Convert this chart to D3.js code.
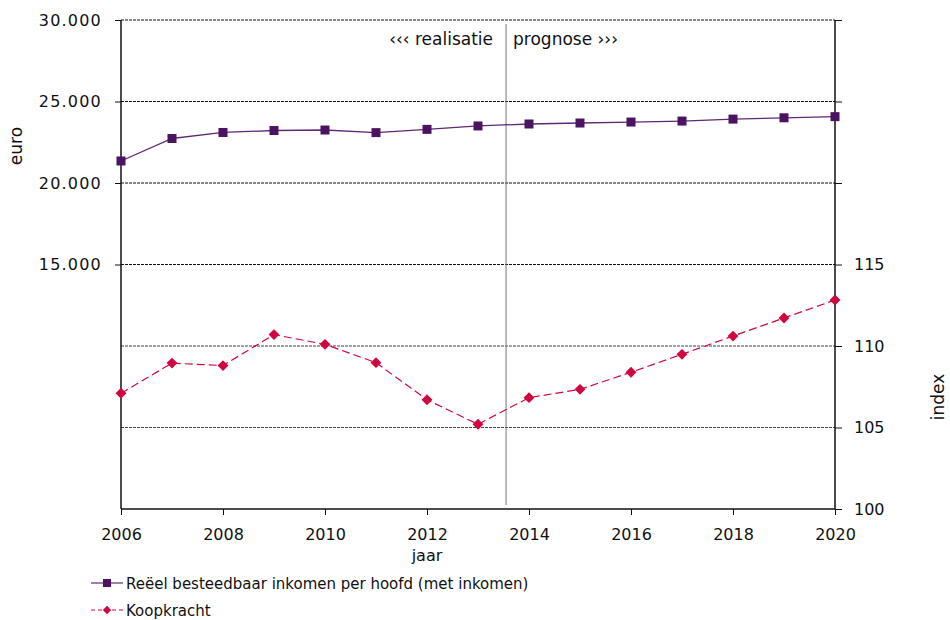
<!DOCTYPE html>
<html>
<head>
<meta charset="utf-8">
<script src="https://cdn.jsdelivr.net/npm/d3@7"></script>
<style>
  body { margin: 0; background: #fff; }
  svg text { font-family: "DejaVu Sans", Verdana, sans-serif; fill: #111; }
</style>
</head>
<body>
<div id="chart"></div>
<script>
const years = [2006, 2007, 2008, 2009, 2010, 2011, 2012, 2013, 2014, 2015, 2016, 2017, 2018, 2019, 2020];
const inkomen = [21350, 22730, 23100, 23220, 23250, 23090, 23290, 23500, 23620, 23680, 23740, 23800, 23920, 24000, 24070];
const koopkracht = [107.1, 108.95, 108.8, 110.7, 110.1, 108.98, 106.7, 105.2, 106.83, 107.34, 108.39, 109.49, 110.61, 111.72, 112.82];
const euroTicks = [15000, 20000, 25000, 30000];
const indexTicks = [100, 105, 110, 115];
const indexMinorTicks = [120, 125, 130];
const yearTicks = [2006, 2008, 2010, 2012, 2014, 2016, 2018, 2020];
const splitYear = 2013.55;

const width = 950, height = 620;
const margin = {top: 20, right: 115, bottom: 111, left: 121};
const w = width - margin.left - margin.right;
const h = height - margin.top - margin.bottom;

const svg = d3.select("#chart").append("svg")
    .attr("width", width)
    .attr("height", height);

const g = svg.append("g")
    .attr("transform", `translate(${margin.left},${margin.top})`);

const x = d3.scaleLinear().domain([2006, 2020]).range([0, w]);
const yL = d3.scaleLinear().domain([0, 30000]).range([h, 0]);
const yR = d3.scaleLinear().domain([100, 130]).range([h, 0]);

// gridlines
g.selectAll(".gridL")
    .data(euroTicks)
    .enter()
    .append("line")
    .attr("x1", 0).attr("x2", w)
    .attr("y1", d => yL(d)).attr("y2", d => yL(d))
    .attr("stroke", "#111")
    .attr("stroke-dasharray", "3,1");

g.selectAll(".gridR")
    .data([105, 110])
    .enter()
    .append("line")
    .attr("x1", 0).attr("x2", w)
    .attr("y1", d => yR(d)).attr("y2", d => yR(d))
    .attr("stroke", "#444")
    .attr("stroke-dasharray", "3,1");

// split line
g.append("line")
    .attr("x1", x(splitYear)).attr("x2", x(splitYear))
    .attr("y1", 4).attr("y2", h - 4)
    .attr("stroke", "#777")
    .attr("stroke-width", 1);

g.append("text")
    .attr("x", x(splitYear) - 13)
    .attr("y", 25)
    .attr("text-anchor", "end")
    .style("font-size", "17px")
    .text("‹‹‹ realisatie");

g.append("text")
    .attr("x", x(splitYear) + 7)
    .attr("y", 25)
    .style("font-size", "17px")
    .text("prognose ›››");

// axes
const axisL = g.append("g")
    .call(d3.axisLeft(yL).tickValues(euroTicks).tickSize(6).tickPadding(13)
        .tickFormat(d => d3.format(",")(d).replace(",", ".")));

const axisR = g.append("g")
    .attr("transform", `translate(${w},0)`)
    .call(d3.axisRight(yR).tickValues(indexTicks.concat(indexMinorTicks)).tickSize(7).tickPadding(12)
        .tickFormat(d => indexTicks.includes(d) ? d : ""));

const axisB = g.append("g")
    .attr("transform", `translate(0,${h})`)
    .call(d3.axisBottom(x).tickValues(yearTicks).tickSize(6).tickPadding(14).tickFormat(d3.format("d")));

[axisL, axisR, axisB].forEach(a => {
    a.select(".domain").attr("stroke", "#111").attr("stroke-width", 1.5);
    a.selectAll(".tick line").attr("stroke", "#111");
    a.selectAll("text").style("font-size", "16px").attr("fill", "#111");
});
axisL.selectAll("text").style("letter-spacing", "1.2px");
axisL.select(".domain").attr("d", `M0,0V${h}`);
axisR.select(".domain").attr("d", `M0,0V${h}`);
axisB.select(".domain").attr("d", `M0,0H${w}`);

// axis titles
g.append("text")
    .attr("transform", `translate(${-99},${126}) rotate(-90)`)
    .attr("text-anchor", "middle")
    .style("font-size", "17px")
    .text("euro");

g.append("text")
    .attr("transform", `translate(${w + 109},${377}) rotate(-90)`)
    .attr("text-anchor", "middle")
    .style("font-size", "17px")
    .text("index");

g.append("text")
    .attr("x", 306)
    .attr("y", h + 52)
    .attr("text-anchor", "middle")
    .style("font-size", "16px")
    .text("jaar");

// lines
const purple = "#4a1460";
const red = "#d0063f";

const lineL = d3.line().x((d, i) => x(years[i])).y(d => yL(d));
const lineR = d3.line().x((d, i) => x(years[i])).y(d => yR(d));

g.append("path")
    .datum(inkomen)
    .attr("d", lineL)
    .attr("fill", "none")
    .attr("stroke", "#5e2a72")
    .attr("stroke-width", 1.3);

g.selectAll(".sq")
    .data(inkomen)
    .enter()
    .append("rect")
    .attr("x", (d, i) => x(years[i]) - 4.5)
    .attr("y", d => yL(d) - 4.5)
    .attr("width", 9)
    .attr("height", 9)
    .attr("fill", purple);

g.append("path")
    .datum(koopkracht)
    .attr("d", lineR)
    .attr("fill", "none")
    .attr("stroke", red)
    .attr("stroke-width", 1.2)
    .attr("stroke-dasharray", "8,4");

const diamond = d3.symbol().type(d3.symbolDiamond2).size(75);
g.selectAll(".dm")
    .data(koopkracht)
    .enter()
    .append("path")
    .attr("d", diamond)
    .attr("transform", (d, i) => `translate(${x(years[i])},${yR(d)})`)
    .attr("fill", red);

// legend
const legend = svg.append("g");
const items = [
    {name: "Reëel besteedbaar inkomen per hoofd (met inkomen)", color: "#5e2a72", dash: null, y: 583},
    {name: "Koopkracht", color: red, dash: "4,3", y: 610}
];
items.forEach((it, i) => {
    legend.append("line")
        .attr("x1", 91).attr("x2", 123)
        .attr("y1", it.y).attr("y2", it.y)
        .attr("stroke", it.color)
        .attr("stroke-width", 1.2)
        .attr("stroke-dasharray", it.dash);
    if (i === 0) {
        legend.append("rect")
            .attr("x", 103).attr("y", it.y - 4)
            .attr("width", 8).attr("height", 8)
            .attr("fill", purple);
    } else {
        legend.append("path")
            .attr("d", d3.symbol().type(d3.symbolDiamond2).size(45))
            .attr("transform", `translate(107,${it.y})`)
            .attr("fill", red);
    }
    legend.append("text")
        .attr("x", 126)
        .attr("y", it.y + 6)
        .style("font-size", "15px")
        .text(it.name);
});
</script>
</body>
</html>
